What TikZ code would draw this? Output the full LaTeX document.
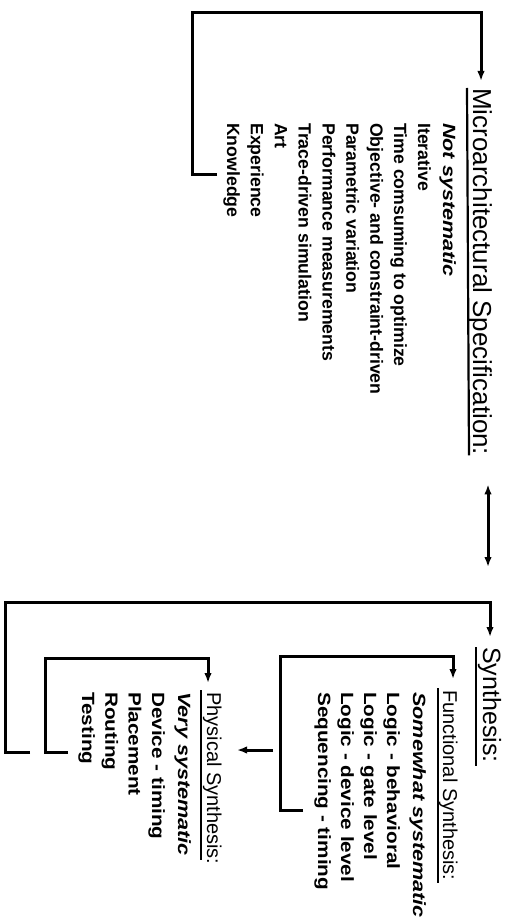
\documentclass[tikz,border=0pt]{standalone}
\usepackage{fontspec}
\setmainfont{Liberation Sans}
\newfontfamily\widefont[FakeStretch=1.17]{Liberation Sans}
\newfontfamily\widerfont[FakeStretch=1.22]{Liberation Sans}
\usetikzlibrary{arrows.meta, calc}

\tikzset{
  heading/.style={rotate=-90, anchor=base west, inner sep=0pt, font=\fontsize{26}{30}\selectfont},
  subheading/.style={heading, font=\fontsize{20}{24}\selectfont},
  entry/.style={rotate=-90, anchor=base west, inner sep=0pt, font=\fontsize{17.7}{24}\selectfont\bfseries},
  wideentry/.style={entry, font=\fontsize{17.7}{24}\selectfont\widefont\bfseries},
  keyword/.style={entry, font=\fontsize{17.7}{24}\selectfont\widerfont\bfseries\itshape},
  link/.style={line width=3pt, -{Latex[length=10pt,width=7.5pt]}},
  bar/.style={line width=2.2pt}
}

\begin{document}
\begin{tikzpicture}[x=1pt, y=-1pt]
  \useasboundingbox (0,0) rectangle (504,917);

  % microarchitecture
  \node[heading] (micro) at (473,88) {Microarchitectural Specification:};
  \draw[bar] ($(micro.base west)+(-6,0)$) -- ($(micro.base east)+(-4,0)$);
  \node[keyword] (nosys) at (443,123) {Not systematic};
  \foreach \txt [count=\i] in {Iterative, Time comsuming to optimize,
      Objective- and constraint-driven, Parametric variation,
      Performance measurements, Trace-driven simulation, Art, Experience, Knowledge}
    \node[entry] (m\i) at ({418-23.875*(\i-1)},123) {\txt};
  \coordinate (mcorner) at (192,13);
  \draw[link] ($(m9.base west)+(-10,52)$) -| (mcorner) -| ($(micro.base west)+(8,-7)$);

  % synthesis
  \node[heading, font=\fontsize{25}{30}\selectfont] (synth) at (483,647) {Synthesis:};
  \draw[bar] ($(synth.base west)+(-7,0)$) -- ($(synth.base east)+(-7,3)$);
  \draw[line width=3pt, {Latex[length=10pt,width=7.5pt]}-{Latex[length=10pt,width=7.5pt]}]
    ($(micro.base east)+(15,29)$) -- ($(synth.base west)+(5,-80)$);

  % functional synthesis
  \node[subheading] (func) at (443,690) {Functional Synthesis:};
  \draw[bar] ($(func.base west)+(-5,-2)$) -- ($(func.base east)+(-5,2)$);
  \node[keyword] (somew) at (413,692) {Somewhat systematic};
  \foreach \txt [count=\i] in {Logic - behavioral, Logic - gate level,
      Logic - device level, Sequencing - timing}
    \node[wideentry] (f\i) at ({387-23*(\i-1)},692) {\txt};
  \coordinate (fcorner) at (280,656);
  \draw[link] ($(f4.base west)+(-15,118)$) -| (fcorner) -| ($(func.base west)+(10,-11)$);

  % physical synthesis
  \node[subheading] (phys) at (207,692) {Physical Synthesis:};
  \draw[bar] ($(phys.base west)+(-6,-2)$) -- ($(phys.base east)+(-6,-5)$);
  \node[keyword] (verys) at (178,692) {Very systematic};
  \foreach \txt [count=\i] in {Device - timing, Placement, Routing, Testing}
    \node[wideentry] (p\i) at ({152-23.3*(\i-1)},692) {\txt};
  \coordinate (pcorner) at (45,658);
  \draw[link] ($(p4.base west)+(-14,60)$) -| (pcorner) -| ($(phys.base west)+(1,-9)$);

  \draw[link] ($(f4.base west)+(-45,58)$) -- ($(phys.base west)+(30,58)$);

  % outer loop
  \coordinate (sfoot) at (30,752);
  \coordinate (scorner) at (5,602);
  \draw[link] (sfoot) -| (scorner) -| ($(synth.base west)+(7,-10)$);
\end{tikzpicture}
\end{document}
